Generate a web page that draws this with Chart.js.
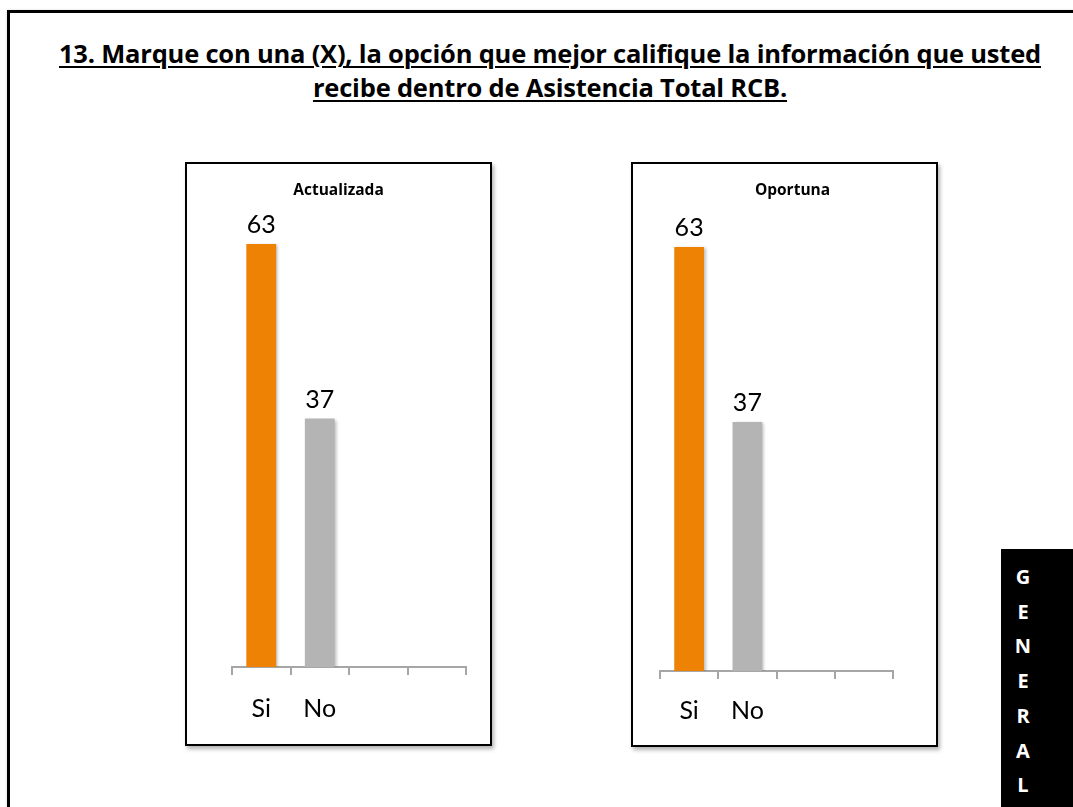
<!DOCTYPE html>
<html>
<head>
<meta charset="utf-8">
<script src="https://cdn.jsdelivr.net/npm/chart.js@4/dist/chart.umd.min.js"></script>
<style>
  html, body { margin:0; padding:0; background:#fff; width:1073px; height:807px; overflow:hidden; position:relative; font-family: Lato, "Open Sans", sans-serif; }
  #frame { position:absolute; left:7px; top:10px; width:1100px; height:900px; border:3px solid #000; box-shadow: 1px 1px 3px rgba(0,0,0,0.3); }
  #title { position:absolute; left:0; top:36px; width:1100px; text-align:center; font-family:"Open Sans", sans-serif; font-weight:bold; font-size:25.5px; line-height:34px; color:#000; letter-spacing:-0.2px; }
  #title span { text-decoration: underline; text-decoration-thickness:2px; text-underline-offset:3px; }
  .box { position:absolute; border:2px solid #000; background:#fff; box-shadow: 2px 3px 4px rgba(0,0,0,0.3); }
  .box canvas { position:absolute; left:0; top:0; }
  .ctitle { position:absolute; top:14px; width:100%; text-align:center; font-family:"Open Sans", sans-serif; font-weight:bold; font-size:15.5px; color:#000; }
  #general { position:absolute; left:1001px; top:549px; width:80px; height:270px; background:#000; color:#fff; font-family:"Open Sans", sans-serif; font-weight:bold; font-size:20px; line-height:34.7px; padding-top:11px; box-sizing:border-box; }
  #general div { position:relative; left:12px; width:20px; text-align:center; }
</style>
</head>
<body>
<div id="frame"></div>
<div id="title"><span>13. Marque con una (X), la opción que mejor califique la información que usted</span><br><span>recibe dentro de Asistencia Total RCB.</span></div>

<div class="box" id="box1" style="left:185px; top:162px; width:303px; height:580px;">
  <canvas id="c1" width="303" height="580"></canvas>
  <div class="ctitle" id="t1" style="left:0px;"></div>
</div>
<div class="box" id="box2" style="left:631px; top:162px; width:303px; height:581px;">
  <canvas id="c2" width="303" height="581"></canvas>
  <div class="ctitle" id="t2" style="left:8px;"></div>
</div>

<div id="general"></div>

<script>
// ---- data ----
const categories = ['Si', 'No', '', ''];
const actualizadaValues = [63, 37, null, null];
const oportunaValues = [63, 37, null, null];
const chartTitles = ['Actualizada', 'Oportuna'];
const sideLabel = 'GENERAL';
const barColors = ['#EE8204', '#B4B4B4', '#B4B4B4', '#B4B4B4'];
const yMax = 70;

document.getElementById('t1').textContent = chartTitles[0];
document.getElementById('t2').textContent = chartTitles[1];
const g = document.getElementById('general');
sideLabel.split('').forEach(ch => { const d = document.createElement('div'); d.textContent = ch; g.appendChild(d); });

const valueLabels = {
  id: 'valueLabels',
  beforeDatasetsDraw(chart) {
    const ctx = chart.ctx;
    ctx.save();
    ctx.shadowColor = 'rgba(0,0,0,0.25)';
    ctx.shadowOffsetX = 2;
    ctx.shadowOffsetY = 1;
    ctx.shadowBlur = 3;
  },
  afterDatasetsDraw(chart) {
    const ctx = chart.ctx;
    ctx.restore();
    ctx.save();
    ctx.font = '25px Lato, "Open Sans", sans-serif';
    ctx.fillStyle = '#000';
    ctx.textAlign = 'center';
    ctx.textBaseline = 'alphabetic';
    const meta = chart.getDatasetMeta(0);
    const data = chart.data.datasets[0].data;
    meta.data.forEach((bar, i) => {
      if (data[i] == null) return;
      ctx.fillText(String(data[i]), bar.x, bar.y - 11);
    });
    ctx.restore();
  }
};

function makeChart(id, values, pad, tickPad) {
  return new Chart(document.getElementById(id), {
    type: 'bar',
    data: {
      labels: categories,
      datasets: [{ data: values, backgroundColor: barColors, borderWidth: 0 }]
    },
    options: {
      responsive: false,
      animation: false,
      layout: { padding: pad },
      plugins: { legend: { display: false }, title: { display: false }, tooltip: { enabled: false } },
      scales: {
        x: {
          grid: { offset: true, drawOnChartArea: false, drawTicks: true, tickLength: 8, color: '#A6A6A6', lineWidth: 2 },
          border: { color: '#A6A6A6', width: 2 },
          ticks: { color: '#000', font: { family: 'Lato, "Open Sans", sans-serif', size: 25 }, padding: tickPad }
        },
        y: { display: false, min: 0, max: yMax }
      },
      datasets: { bar: { categoryPercentage: 1, barPercentage: 0.51 } }
    },
    plugins: [valueLabels]
  });
}

makeChart('c1', actualizadaValues, { left: 45, right: 24, top: 33, bottom: 1 }, 19);
makeChart('c2', oportunaValues, { left: 27, right: 43, top: 36, bottom: 2 }, 17);
</script>
</body>
</html>
